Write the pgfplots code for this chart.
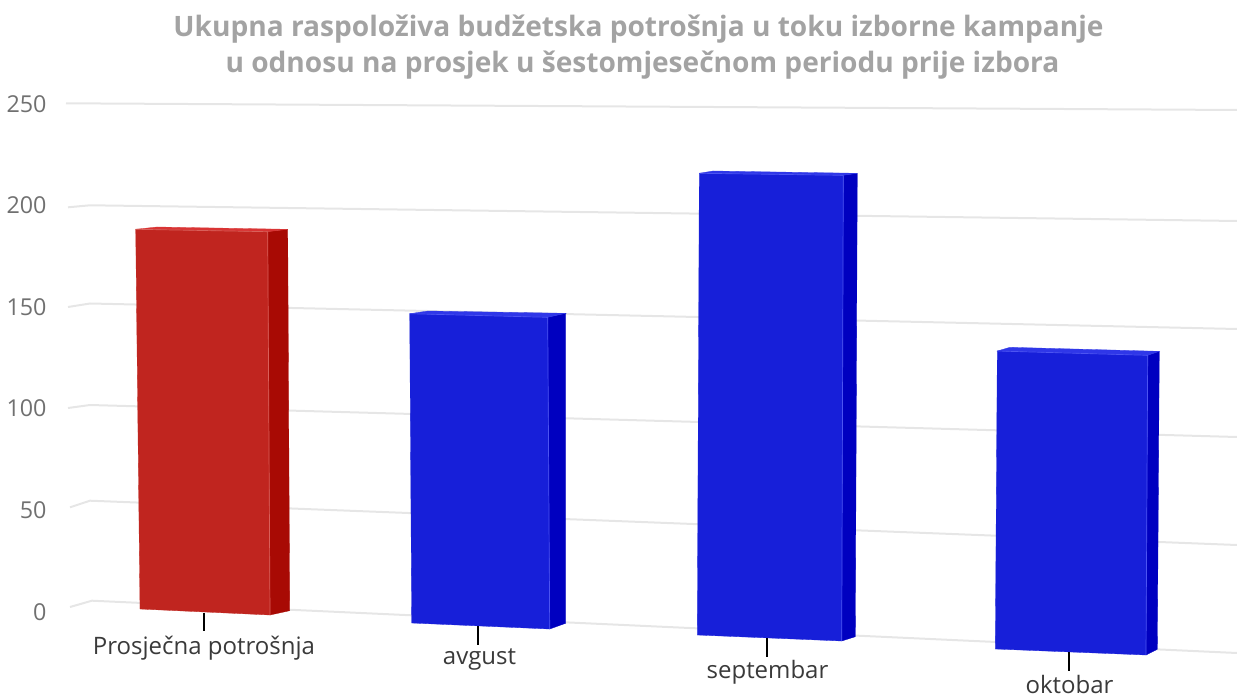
\documentclass[border=0pt]{standalone}
\usepackage{pgfplots}
\pgfplotsset{compat=1.18}
\usepackage{fontspec}
\setmainfont{Open Sans}
\definecolor{gridc}{HTML}{E6E6E6}
\definecolor{rfront}{HTML}{C0251F}
\definecolor{rside}{HTML}{A80A04}
\definecolor{rtop}{HTML}{D93434}
\definecolor{redge}{HTML}{D9605A}
\definecolor{bfront}{HTML}{171FD9}
\definecolor{bside}{HTML}{0000C0}
\definecolor{btop}{HTML}{2F37E8}
\definecolor{bedge}{HTML}{4C54F2}
\definecolor{ticklab}{HTML}{707070}
\definecolor{titlec}{HTML}{A3A3A3}
\definecolor{catlab}{HTML}{3A3A3A}
\begin{document}
\begin{tikzpicture}[x=1pt,y=1pt]
\path[use as bounding box] (0,0) rectangle (1237pt,697pt);
\begin{axis}[
  at={(0,0)},anchor=south west,
  scale only axis,width=1237pt,height=697pt,
  xmin=0,xmax=1237,ymin=-42.32,ymax=300.69,
  axis line style={draw=none},
  major tick length=0pt,
  xtick=\empty,
  ytick={0,50,100,150,200,250},
  /pgf/number format/assume math mode=true,
  y tick label style={font=\fontsize{23.3}{27}\selectfont,text=ticklab,anchor=east,xshift=50pt,yshift=-0.7pt},
  clip=true,
]
% grid lines (x position, height on the value scale)
\addplot[gridc,line width=2pt] coordinates {(66,249.85) (1237,246.56)};
\addplot[gridc,line width=2pt] coordinates {(68,198.67) (90,199.66) (1237,191.93)};
\addplot[gridc,line width=2pt] coordinates {(68,149.61) (90,151.33) (1237,138.78)};
\addplot[gridc,line width=2pt] coordinates {(68,99.90) (90,101.38) (1237,85.63)};
\addplot[gridc,line width=2pt] coordinates {(70,51.03) (90,54.28) (1237,32.48)};
\addplot[gridc,line width=2pt] coordinates {(70,1.97) (92,5.07) (1237,-20.67)};
% Prosjecna potrosnja
\addplot[fill=rside,draw=rside,line width=0.3pt] coordinates {(267.7,186.67) (287.7,187.85) (289.7,0.15) (270,-1.97)} --cycle;
\addplot[fill=rtop,draw=rtop,line width=0.3pt] coordinates {(135.7,187.85) (157,188.98) (287.7,187.85) (267.7,186.67)} --cycle;
\addplot[fill=rfront,draw=rfront,line width=0.3pt] coordinates {(135.7,187.85) (267.7,186.67) (270,-1.97) (140,0.98)} --cycle;
\addplot[redge,line width=0.7pt] coordinates {(135.7,187.85) (267.7,186.67) (270,-1.97)};
% avgust
\addplot[fill=bside,draw=bside,line width=0.3pt] coordinates {(547.7,144.54) (565.7,146.51) (565.7,-6.05) (549.7,-8.86)} --cycle;
\addplot[fill=btop,draw=btop,line width=0.3pt] coordinates {(409.7,146.31) (428,147.64) (565.7,146.51) (547.7,144.54)} --cycle;
\addplot[fill=bfront,draw=bfront,line width=0.3pt] coordinates {(409.7,146.31) (547.7,144.54) (549.7,-8.86) (411.7,-5.91)} --cycle;
\addplot[bedge,line width=0.7pt] coordinates {(409.7,146.31) (547.7,144.54) (549.7,-8.86)};
% septembar
\addplot[fill=bside,draw=bside,line width=0.3pt] coordinates {(843.3,214.42) (857.3,215.41) (855.3,-12.65) (841.7,-14.76)} --cycle;
\addplot[fill=btop,draw=btop,line width=0.3pt] coordinates {(699.3,215.41) (713,216.54) (857.3,215.41) (843.3,214.42)} --cycle;
\addplot[fill=bfront,draw=bfront,line width=0.3pt] coordinates {(699.3,215.41) (843.3,214.42) (841.7,-14.76) (697.3,-11.81)} --cycle;
\addplot[bedge,line width=0.7pt] coordinates {(699.3,215.41) (843.3,214.42) (841.7,-14.76)};
% oktobar
\addplot[fill=bside,draw=bside,line width=0.3pt] coordinates {(1147.7,125.84) (1159.3,127.80) (1157.3,-18.85) (1146,-21.65)} --cycle;
\addplot[fill=btop,draw=btop,line width=0.3pt] coordinates {(997.3,127.95) (1010,129.78) (1159.3,127.80) (1147.7,125.84)} --cycle;
\addplot[fill=bfront,draw=bfront,line width=0.3pt] coordinates {(997.3,127.95) (1147.7,125.84) (1146,-21.65) (995.3,-18.70)} --cycle;
\addplot[bedge,line width=0.7pt] coordinates {(997.3,127.95) (1147.7,125.84) (1146,-21.65)};
% category ticks
\addplot[black,line width=2pt] coordinates {(203.7,-0.84) (203.7,-9.84)};
\addplot[black,line width=2pt] coordinates {(477.7,-7.38) (477.7,-16.58)};
\addplot[black,line width=2pt] coordinates {(767.3,-13.29) (767.3,-22.49)};
\addplot[black,line width=2pt] coordinates {(1069.3,-20.18) (1069.3,-29.53)};
% category labels
\node[anchor=base,inner sep=0pt,text=catlab,font=\fontsize{24}{28}\selectfont] at (axis cs:204,-21.16) {Prosječna potrošnja};
\node[anchor=base,inner sep=0pt,text=catlab,font=\fontsize{24}{28}\selectfont] at (axis cs:479.5,-26.57) {avgust};
\node[anchor=base,inner sep=0pt,text=catlab,font=\fontsize{24}{28}\selectfont] at (axis cs:767.5,-33.46) {septembar};
\node[anchor=base,inner sep=0pt,text=catlab,font=\fontsize{24}{28}\selectfont] at (axis cs:1069.5,-40.4) {oktobar};
% title
\node[anchor=base,inner sep=0pt,text=titlec,font=\fontsize{28.1}{32}\selectfont\bfseries] at (axis cs:638.5,282.9) {Ukupna raspoloživa budžetska potrošnja u toku izborne kampanje};
\node[anchor=base,inner sep=0pt,text=titlec,font=\fontsize{28.1}{32}\selectfont\bfseries] at (axis cs:642.5,265.2) {u odnosu na prosjek u šestomjesečnom periodu prije izbora};
\end{axis}
\end{tikzpicture}
\end{document}
